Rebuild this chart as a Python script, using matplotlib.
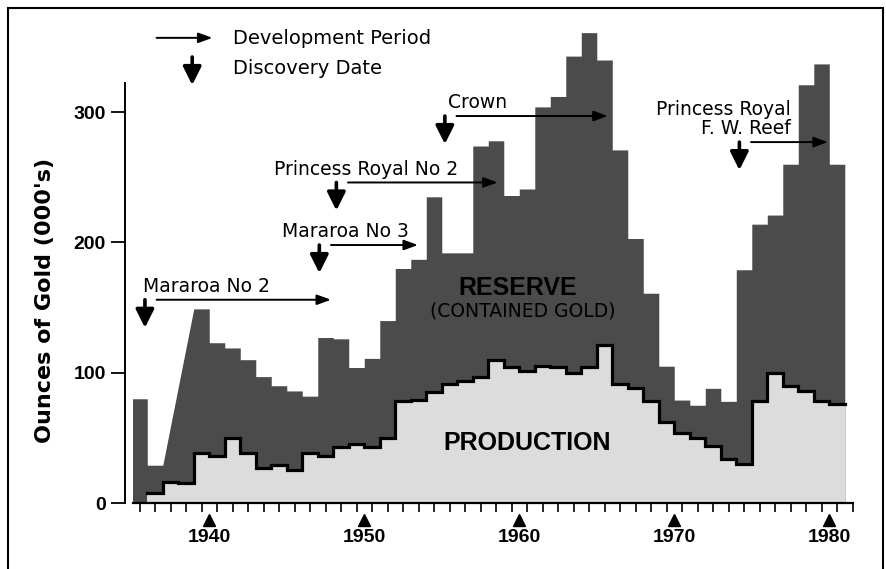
import matplotlib
matplotlib.use("Agg")
import matplotlib.pyplot as plt
from matplotlib.patches import Rectangle

plt.rcParams['font.family'] = ['Liberation Sans', 'DejaVu Sans']

# yearly values, ounces of gold (000's); None = not drawn as a step
years = list(range(1935, 1981))
reserve = [80, 29, None, None, 149, 123, 119, 110, 97, 90, 86, 82, 127, 126, 104, 111,
           140, 180, 187, 235, 192, 192, 274, 278, 236, 241, 304, 312, 343, 361, 340,
           271, 203, 161, 105, 79, 75, 88, 78, 179, 214, 221, 260, 321, 337, 260]
production = [None, 8, 16, 15, 38, 36, 50, 38, 27, 29, 25, 38, 36, 43, 45, 43,
              50, 78, 79, 85, 91, 94, 97, 110, 104, 101, 105, 104, 100, 104, 121,
              91, 88, 78, 62, 54, 50, 44, 34, 30, 78, 100, 90, 86, 78, 76]

# mines: discovery date, end of development period, arrow level
mines = ["Mararoa No 2", "Mararoa No 3", "Princess Royal No 2", "Crown",
         "Princess Royal\nF. W. Reef"]
discovery = [1935.85, 1947.1, 1948.2, 1955.2, 1974.2]
dev_end = [1947.85, 1953.46, 1958.6, 1965.7, 1979.9]
level = [156, 198, 246, 297, 277]
label_x = [1935.74, 1944.7, 1944.2, 1955.4, 1977.5]
label_ha = ['left', 'left', 'left', 'left', 'right']

decades = [1940, 1950, 1960, 1970, 1980]


def steps(yrs, vals):
    xs, ys = [], []
    for y, v in zip(yrs, vals):
        if v is None:
            continue
        xs += [y, y + 1]
        ys += [v, v]
    return xs, ys


DARK = '#4b4b4b'
LIGHT = '#dcdcdc'
LABEL_FONT = 'DejaVu Sans'

fig = plt.figure(figsize=(8.86, 5.69), dpi=100)
ax = fig.add_axes([133 / 886, 66 / 569, 720 / 886, 483 / 569])

rx, ry = steps(years, reserve)
px, py = steps(years, production)
ax.fill_between(rx, 0, ry, color=DARK, lw=0, zorder=1)
ax.fill_between(px, 0, py, color=LIGHT, lw=0, zorder=2)
ax.plot(px, py, color='black', lw=2.3, zorder=3, solid_joinstyle='miter')

ax.set_xlim(1935.08, 1981.53)
ax.set_ylim(0, 370.7)

for s in ['top', 'right']:
    ax.spines[s].set_visible(False)
ax.spines['left'].set_position(('outward', 6))
ax.spines['left'].set_bounds(0, 322)
ax.spines['left'].set_linewidth(1.4)
ax.spines['bottom'].set_linewidth(1.6)

ax.set_yticks([0, 100, 200, 300])
ax.tick_params(axis='y', direction='out', length=10, width=1.3, pad=3.5,
               labelsize=14)
for t in ax.get_yticklabels():
    t.set_fontweight('bold')

ax.set_xticks(decades)
ax.set_xticklabels([str(d) for d in decades], fontsize=14, fontweight='bold')
ax.set_xticks([y + 0.5 for y in range(1935, 1982)], minor=True)
ax.tick_params(axis='x', which='major', length=0, pad=19)
ax.tick_params(axis='x', which='minor', direction='out', length=6.5, width=1.2)
ax.plot(decades, [-12.7] * len(decades), ls='none', marker='^', ms=8,
        color='black', clip_on=False)

fig.text(45 / 886, 1 - 300 / 569, "Ounces of Gold (000's)", rotation=90,
         ha='center', va='center', fontsize=16, fontweight='bold',
         family=LABEL_FONT)

# region labels
ax.text(1959.9, 159.6, 'RESERVE', ha='center', va='baseline', fontsize=18,
        fontweight='bold', zorder=4)
ax.text(1960.2, 143.5, '(CONTAINED GOLD)', ha='center', va='baseline',
        fontsize=13.5, family=LABEL_FONT, zorder=4)
ax.text(1960.5, 40.7, 'PRODUCTION', ha='center', va='baseline', fontsize=18,
        fontweight='bold', zorder=4)

down = dict(arrowstyle='-|>,head_length=0.5,head_width=0.25', lw=2.6,
            color='black', mutation_scale=22, shrinkA=0, shrinkB=0)
right = dict(arrowstyle='-|>,head_length=0.6,head_width=0.22', lw=1.4,
             color='black', mutation_scale=14, shrinkA=0, shrinkB=0)

for name, d, e, lv, lx, ha in zip(mines, discovery, dev_end, level, label_x, label_ha):
    ax.annotate('', xy=(d, lv - 21.5), xytext=(d, lv), arrowprops=down, zorder=5)
    ax.annotate('', xy=(e, lv), xytext=(d + 0.75, lv), arrowprops=right, zorder=5)
    ax.text(lx, lv + 6, name, ha=ha, va='baseline', fontsize=13.5,
            family=LABEL_FONT, linespacing=1.0, zorder=5)

# key
ax.annotate('', xy=(1940.2, 357), xytext=(1936.6, 357), arrowprops=right,
            annotation_clip=False)
ax.annotate('', xy=(1938.9, 320.8), xytext=(1938.9, 342.3), arrowprops=down,
            annotation_clip=False)
ax.text(1941.5, 352.3, 'Development Period', va='baseline', fontsize=14,
        family=LABEL_FONT)
ax.text(1941.5, 329.6, 'Discovery Date', va='baseline', fontsize=14,
        family=LABEL_FONT)

fig.patches.append(Rectangle((8 / 886, -0.05), 875 / 886, 1.05 - 8 / 569,
                             transform=fig.transFigure, fill=False,
                             lw=1.5, ec='black'))

fig.savefig('out.png', dpi=100, facecolor='white')
